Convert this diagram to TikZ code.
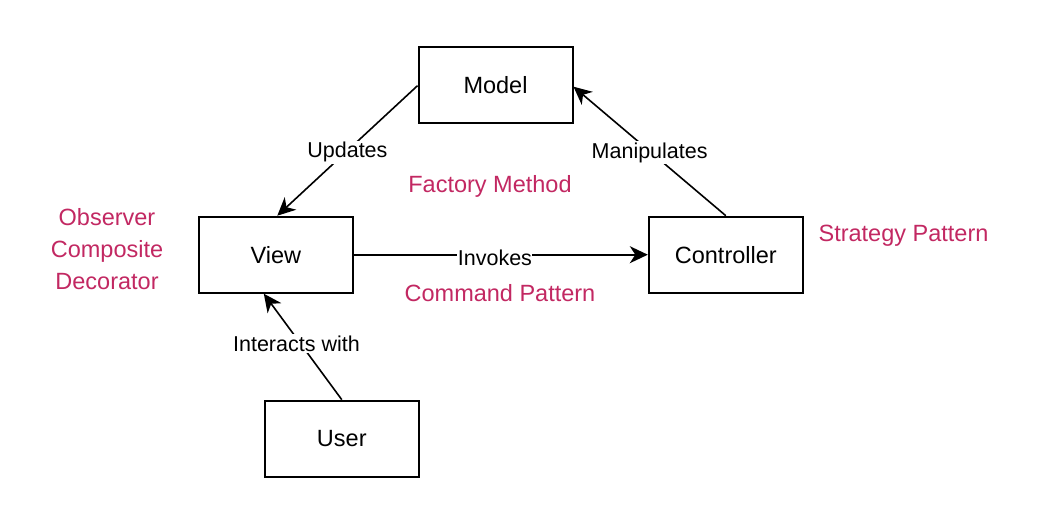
\documentclass[tikz,border=0pt]{standalone}
\usepackage{fontspec}
\setmainfont{Liberation Sans}
\usetikzlibrary{arrows.meta}
\definecolor{patred}{RGB}{194,40,98}
\tikzset{
  box/.style={draw=black, line width=2pt, fill=white, minimum width=154pt, minimum height=76pt, inner sep=0pt, font=\fontsize{23.5}{28}\selectfont},
  conn/.style={line width=1.6pt, -{Stealth[length=18pt, width=17pt, inset=5.5pt]}},
  elabel/.style={fill=white, inner sep=1.5pt, font=\fontsize{21.5}{26}\selectfont},
  pattern/.style={text=patred, align=center, font=\fontsize{23.5}{32}\selectfont, inner sep=0pt}
}
\begin{document}
\begin{tikzpicture}[x=1pt,y=-1pt]
\useasboundingbox (0,0) rectangle (1040,522);
\node[box] (model) at (495.5,84.7) {Model};
\node[box] (view) at (275.8,254.7) {View};
\node[box] (ctrl) at (725.8,254.7) {Controller};
\node[box] (user) at (341.8,438.7) {User};

\draw[conn] ([yshift=-1pt]model.west) -- node[elabel, pos=0.5, yshift=-1.5pt] (lupd) {Updates} ([xshift=1.5pt]view.north);
\draw[conn] (ctrl.north) -- node[elabel, pos=0.5, yshift=-1.5pt] (lman) {Manipulates} ([yshift=-2pt]model.east);
\draw[conn] (view.east) -- node[elabel, pos=0.48, yshift=-3.5pt, inner sep=0.5pt] (linv) {Invokes} (ctrl.west);
\draw[conn] (user.north) -- node[elabel, pos=0.53, xshift=-4pt] (lint) {Interacts with} ([xshift=-12pt]view.south);

\node[pattern] (factory) at (490,186) {Factory Method};
\node[pattern] (command) at (500,293.5) {Command Pattern};
\node[pattern] (strategy) at (903.5,235.5) {Strategy Pattern};
\node[pattern] (observer) at (107,249) {Observer\\Composite\\Decorator};
\end{tikzpicture}
\end{document}
